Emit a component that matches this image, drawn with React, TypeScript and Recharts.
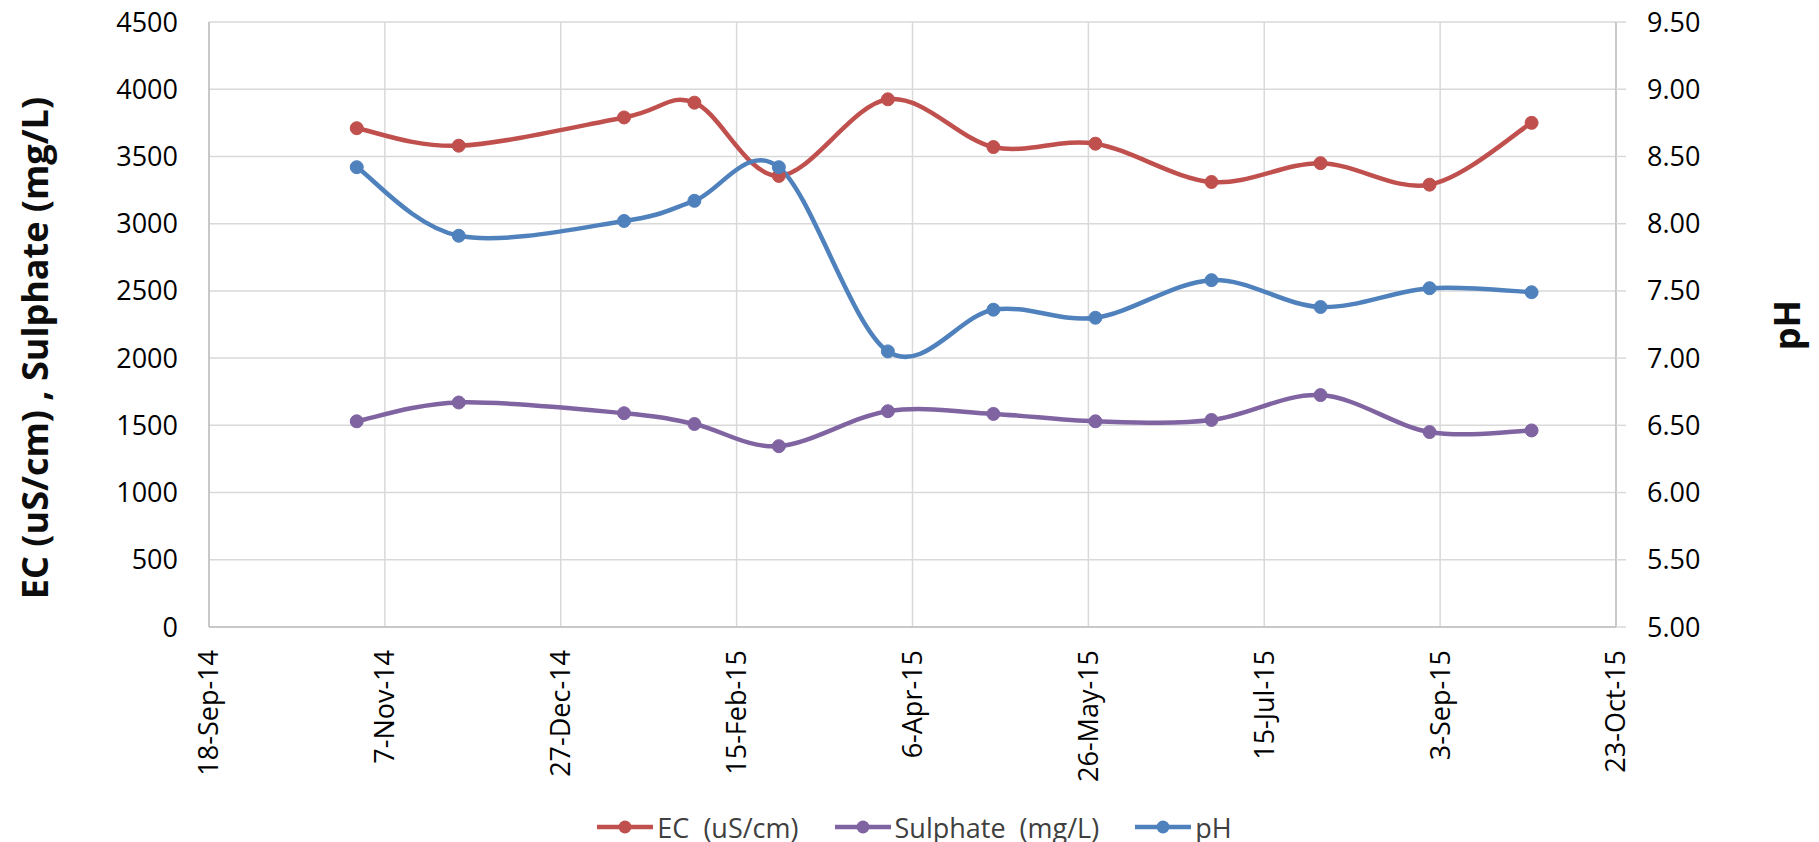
import * as React from 'react';
import { CartesianGrid, Legend, Line, LineChart, XAxis, YAxis } from 'recharts';

const sampleDates = [
  '2014-10-30', '2014-11-28', '2015-01-14', '2015-02-03', '2015-02-27', '2015-03-30',
  '2015-04-29', '2015-05-28', '2015-06-30', '2015-07-31', '2015-08-31', '2015-09-29',
];
const ecValues = [3710, 3580, 3790, 3900, 3355, 3925, 3570, 3595, 3310, 3450, 3290, 3750];
const sulphateValues = [1530, 1670, 1590, 1510, 1345, 1605, 1585, 1530, 1540, 1725, 1450, 1462];
const phValues = [8.42, 7.91, 8.02, 8.17, 8.42, 7.05, 7.36, 7.3, 7.58, 7.38, 7.52, 7.49];

const xTickDates = [
  '2014-09-18', '2014-11-07', '2014-12-27', '2015-02-15', '2015-04-06',
  '2015-05-26', '2015-07-15', '2015-09-03', '2015-10-23',
];
const leftTicks = [0, 500, 1000, 1500, 2000, 2500, 3000, 3500, 4000, 4500];
const rightTicks = [5, 5.5, 6, 6.5, 7, 7.5, 8, 8.5, 9, 9.5];

const MONTHS = ['Jan', 'Feb', 'Mar', 'Apr', 'May', 'Jun', 'Jul', 'Aug', 'Sep', 'Oct', 'Nov', 'Dec'];

const EC_COLOR = '#C0504D';
const SO4_COLOR = '#8064A2';
const PH_COLOR = '#4F81BD';

const toTime = (s: string) => {
  const [y, m, d] = s.split('-').map(Number);
  return Date.UTC(y, m - 1, d);
};

const fmtDate = (t: number) => {
  const d = new Date(t);
  return `${d.getUTCDate()}-${MONTHS[d.getUTCMonth()]}-${String(d.getUTCFullYear()).slice(2)}`;
};

const data = sampleDates.map((s, i) => ({
  t: toTime(s),
  ec: ecValues[i],
  sulphate: sulphateValues[i],
  ph: phValues[i],
}));
const xTicks = xTickDates.map(toTime);

// excel-ish smoothed line (catmull-rom as bezier)
function excelSmooth(context: any) {
  let pts: number[][] = [];
  return {
    areaStart() {},
    areaEnd() {},
    lineStart() {
      pts = [];
    },
    point(x: number, y: number) {
      pts.push([+x, +y]);
    },
    lineEnd() {
      const n = pts.length;
      if (!n) return;
      context.moveTo(pts[0][0], pts[0][1]);
      for (let i = 0; i < n - 1; i++) {
        const p0 = pts[i - 1] || pts[i];
        const p1 = pts[i];
        const p2 = pts[i + 1];
        const p3 = pts[i + 2] || p2;
        context.bezierCurveTo(
          p1[0] + (p2[0] - p0[0]) / 6,
          p1[1] + (p2[1] - p0[1]) / 6,
          p2[0] - (p3[0] - p1[0]) / 6,
          p2[1] - (p3[1] - p1[1]) / 6,
          p2[0],
          p2[1],
        );
      }
    },
  };
}

function DateTick({ x, y, payload }: any) {
  return (
    <g transform={`translate(${x},${y + 23})`}>
      <text transform="rotate(-90)" textAnchor="end" dy="0.35em" fontSize={27} fill="#000">
        {fmtDate(payload.value)}
      </text>
    </g>
  );
}

function AxisTitle({ posX, posY, text }: any) {
  return (
    <text
      x={posX}
      y={posY}
      transform={`rotate(-90 ${posX} ${posY})`}
      textAnchor="middle"
      dy="0.35em"
      fontSize={36}
      fontWeight="bold"
      fill="#0D0D0D"
    >
      {text}
    </text>
  );
}

const legendItems = [
  { label: 'EC  (uS/cm)', color: EC_COLOR },
  { label: 'Sulphate  (mg/L)', color: SO4_COLOR },
  { label: 'pH', color: PH_COLOR },
];

function ChartLegend() {
  return (
    <div
      style={{
        display: 'flex',
        justifyContent: 'center',
        alignItems: 'center',
        height: 30,
        paddingLeft: 10,
        fontSize: 27,
        color: '#404040',
        whiteSpace: 'pre',
      }}
    >
      {legendItems.map((it) => (
        <div key={it.label} style={{ display: 'flex', alignItems: 'center', margin: '0 18px' }}>
          <svg width={56} height={16}>
            <line x1={0} y1={8} x2={56} y2={8} stroke={it.color} strokeWidth={4.5} />
            <circle cx={28} cy={8} r={6.5} fill={it.color} />
          </svg>
          <span style={{ marginLeft: 4 }}>{it.label}</span>
        </div>
      ))}
    </div>
  );
}

export default function App() {
  return (
    <div
      style={{
        position: 'absolute',
        left: 0,
        top: 0,
        width: 1819,
        height: 842,
        background: '#fff',
        fontFamily: '"Open Sans", sans-serif',
      }}
    >
      <LineChart width={1819} height={842} data={data} margin={{ top: 22, right: 0, bottom: 0, left: 0 }}>
        <CartesianGrid stroke="#D9D9D9" strokeWidth={1.5} yAxisId="left" />
        <XAxis
          dataKey="t"
          type="number"
          domain={[xTicks[0], xTicks[xTicks.length - 1]]}
          ticks={xTicks}
          interval={0}
          height={185}
          tickSize={0}
          tickMargin={0}
          tickLine={false}
          axisLine={{ stroke: '#BFBFBF', strokeWidth: 1.5 }}
          tick={<DateTick />}
        />
        <YAxis
          yAxisId="left"
          orientation="left"
          domain={[0, 4500]}
          ticks={leftTicks}
          interval={0}
          width={209}
          tickSize={0}
          tickMargin={31}
          tickLine={false}
          axisLine={{ stroke: '#BFBFBF', strokeWidth: 1.5 }}
          tick={{ fontSize: 27, fill: '#000' }}
          label={<AxisTitle posX={35} posY={348} text="EC (uS/cm) , Sulphate (mg/L)" />}
        />
        <YAxis
          yAxisId="right"
          orientation="right"
          domain={[5, 9.5]}
          ticks={rightTicks}
          interval={0}
          width={203}
          tickSize={10}
          tickMargin={21}
          tickLine={{ stroke: '#D9D9D9', strokeWidth: 1.5 }}
          axisLine={{ stroke: '#BFBFBF', strokeWidth: 1.5 }}
          tick={{ fontSize: 27, fill: '#000', textAnchor: 'start' }}
          tickFormatter={(v: number) => v.toFixed(2)}
          label={<AxisTitle posX={1787} posY={325} text="pH" />}
        />
        <Legend verticalAlign="bottom" wrapperStyle={{ bottom: 0, left: 0, width: 1819 }} content={<ChartLegend />} />
        <Line
          yAxisId="left"
          dataKey="ec"
          name="EC  (uS/cm)"
          type={excelSmooth as any}
          stroke={EC_COLOR}
          strokeWidth={4.5}
          dot={{ r: 6.5, fill: EC_COLOR, stroke: EC_COLOR, strokeWidth: 1 }}
          isAnimationActive={false}
        />
        <Line
          yAxisId="left"
          dataKey="sulphate"
          name="Sulphate  (mg/L)"
          type={excelSmooth as any}
          stroke={SO4_COLOR}
          strokeWidth={4.5}
          dot={{ r: 6.5, fill: SO4_COLOR, stroke: SO4_COLOR, strokeWidth: 1 }}
          isAnimationActive={false}
        />
        <Line
          yAxisId="right"
          dataKey="ph"
          name="pH"
          type={excelSmooth as any}
          stroke={PH_COLOR}
          strokeWidth={4.5}
          dot={{ r: 6.5, fill: PH_COLOR, stroke: PH_COLOR, strokeWidth: 1 }}
          isAnimationActive={false}
        />
      </LineChart>
    </div>
  );
}
